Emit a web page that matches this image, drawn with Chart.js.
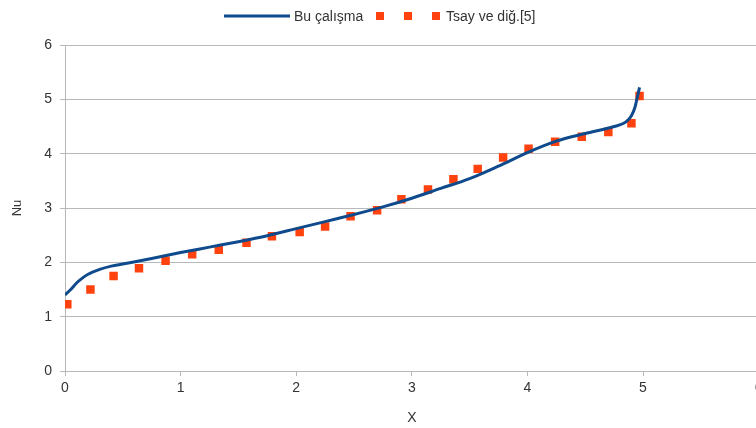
<!DOCTYPE html>
<html>
<head>
<meta charset="utf-8">
<script src="https://cdn.jsdelivr.net/npm/chart.js@4/dist/chart.umd.min.js"></script>
<style>
  html, body { margin: 0; padding: 0; background: #fff; overflow: hidden; width: 756px; height: 428px; }
  #wrap { width: 800px; height: 428px; position: relative; }
</style>
</head>
<body>
<div id="wrap"><canvas id="c" width="800" height="428"></canvas></div>
<script>
// Present study (solid curve)
const calismaX  = [0, 0.05, 0.1, 0.15, 0.2, 0.3, 0.4, 0.5, 0.75, 1.0, 1.25, 1.5, 1.75, 2.0, 2.25, 2.5, 2.75, 3.0, 3.25, 3.5, 3.75, 4.0, 4.25, 4.5, 4.75, 4.85, 4.9, 4.93, 4.95, 4.97];
const calismaNu = [1.40, 1.50, 1.62, 1.71, 1.78, 1.87, 1.93, 1.97, 2.07, 2.18, 2.28, 2.38, 2.49, 2.62, 2.75, 2.88, 3.02, 3.18, 3.36, 3.54, 3.77, 4.02, 4.23, 4.37, 4.50, 4.58, 4.70, 4.85, 5.03, 5.22];

// Tsay et al. [5] (square markers)
const tsayX  = [0.02, 0.22, 0.42, 0.64, 0.87, 1.10, 1.33, 1.57, 1.79, 2.03, 2.25, 2.47, 2.70, 2.91, 3.14, 3.36, 3.57, 3.79, 4.01, 4.24, 4.47, 4.70, 4.90, 4.97];
const tsayNu = [1.23, 1.50, 1.75, 1.89, 2.03, 2.15, 2.23, 2.36, 2.48, 2.56, 2.66, 2.85, 2.96, 3.16, 3.34, 3.53, 3.72, 3.93, 4.09, 4.22, 4.31, 4.40, 4.56, 5.06];

const seriesNames = ['Bu çalışma', 'Tsay ve diğ.[5]'];
const xTicks = [0, 1, 2, 3, 4, 5, 6];
const yTicks = [0, 1, 2, 3, 4, 5, 6];

const BLUE = '#0e4a8c';
const RED = '#ff420e';
const GRID = '#b8b8b8';
const TEXT = '#333333';
const FONT = 'Liberation Sans, Arial, sans-serif';

const toPoints = (xs, ys) => xs.map((x, i) => ({ x, y: ys[i] }));

// Legend drawn across the top: line sample for the curve, three squares for the markers
const topLegend = {
  id: 'topLegend',
  afterDraw(chart) {
    const ctx = chart.ctx;
    const y = 16;
    ctx.save();
    ctx.font = '14px ' + FONT;
    ctx.fillStyle = TEXT;
    ctx.textBaseline = 'middle';
    const ds0 = chart.data.datasets[0];
    const ds1 = chart.data.datasets[1];
    ctx.strokeStyle = ds0.borderColor;
    ctx.lineWidth = 3;
    ctx.beginPath();
    ctx.moveTo(224, y);
    ctx.lineTo(290, y);
    ctx.stroke();
    ctx.fillText(ds0.label, 294, y + 1);
    ctx.fillStyle = ds1.pointBackgroundColor;
    [380, 408, 436].forEach(cx => ctx.fillRect(cx - 4, y - 4, 8, 8));
    ctx.fillStyle = TEXT;
    ctx.fillText(ds1.label, 446, y + 1);
    ctx.restore();
  }
};

new Chart(document.getElementById('c'), {
  type: 'scatter',
  data: {
    datasets: [
      {
        label: seriesNames[0],
        data: toPoints(calismaX, calismaNu),
        showLine: true,
        borderColor: BLUE,
        borderWidth: 3,
        pointRadius: 0,
        cubicInterpolationMode: 'monotone',
        order: 1
      },
      {
        label: seriesNames[1],
        data: toPoints(tsayX, tsayNu),
        showLine: false,
        pointStyle: 'rect',
        pointRadius: 6,
        pointBorderWidth: 0,
        pointBackgroundColor: RED,
        pointBorderColor: RED,
        order: 2
      }
    ]
  },
  options: {
    responsive: false,
    animation: false,
    layout: { padding: { left: 0, right: 41.4, top: 45, bottom: 0 } },
    plugins: { legend: { display: false }, tooltip: { enabled: false } },
    scales: {
      x: {
        type: 'linear',
        min: 0, max: 6,
        afterBuildTicks: s => { s.ticks = xTicks.map(v => ({ value: v })); },
        afterFit: s => { s.height = 57; },
        border: { color: GRID, width: 1 },
        grid: { drawOnChartArea: false, drawTicks: true, tickLength: 5, color: GRID },
        ticks: { color: TEXT, font: { family: FONT, size: 14 }, padding: 4, maxRotation: 0 },
        title: { display: true, text: 'X', color: TEXT, font: { family: FONT, size: 14 }, padding: { top: 0, bottom: 1 } }
      },
      y: {
        type: 'linear',
        min: 0, max: 6,
        afterBuildTicks: s => { s.ticks = yTicks.map(v => ({ value: v })); },
        afterFit: s => { s.width = 65; },
        border: { color: GRID, width: 1 },
        grid: { drawOnChartArea: true, drawTicks: true, tickLength: 5, color: GRID },
        ticks: { color: TEXT, font: { family: FONT, size: 14 }, padding: 8 },
        title: { display: true, text: 'Nu', color: TEXT, font: { family: FONT, size: 13 }, padding: { top: 10, bottom: 0 } }
      }
    }
  },
  plugins: [topLegend]
});
</script>
</body>
</html>
